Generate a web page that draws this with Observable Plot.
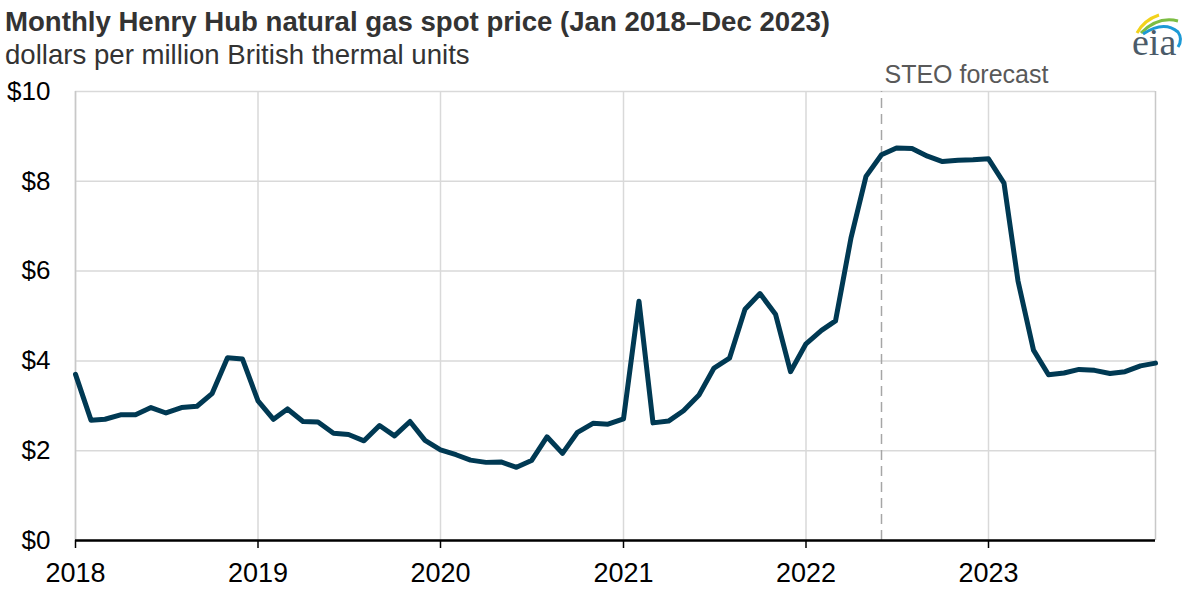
<!DOCTYPE html>
<html><head><meta charset="utf-8">
<script src="https://cdn.jsdelivr.net/npm/d3@7"></script>
<script src="https://cdn.jsdelivr.net/npm/@observablehq/plot@0.6"></script>
<style>
body{margin:0;background:#fff;font-family:"Liberation Sans",Arial,sans-serif;}
#wrap{position:relative;width:1200px;height:591px;overflow:hidden}
#header{position:relative;height:60px;z-index:2}
.title{position:absolute;left:5px;top:7.6px;font-size:27.6px;line-height:27.6px;font-weight:bold;color:#333;white-space:nowrap}
.subtitle{position:absolute;left:5px;top:40.6px;font-size:27.6px;line-height:27.6px;color:#333;white-space:nowrap}
#logo{position:absolute;left:1128px;top:6px;overflow:visible}
#chart{position:relative;z-index:1}
</style></head>
<body>
<div id="wrap">
  <div id="header">
    <div class="title">Monthly Henry Hub natural gas spot price (Jan 2018–Dec 2023)</div>
    <div class="subtitle">dollars per million British thermal units</div>
    <svg id="logo" width="66" height="54" viewBox="0 0 66 54">
      <path d="M9 27 Q16 14 31 9" fill="none" stroke="#f2d21b" stroke-width="3"/>
      <path d="M13 27 Q30 10 50 15" fill="none" stroke="#7cbd42" stroke-width="3"/>
      <path d="M15 28 Q36 14 50 26 Q55 33 50 41" fill="none" stroke="#1d9ad6" stroke-width="3"/>
      <text x="4" y="49" font-family="Liberation Serif, DejaVu Serif, serif" font-size="38" fill="#4b5b69">eia</text>
    </svg>
  </div>
  <div id="chart"></div>
</div>
<script>
const months = [
  "2018-01","2018-02","2018-03","2018-04","2018-05","2018-06","2018-07","2018-08","2018-09","2018-10","2018-11","2018-12",
  "2019-01","2019-02","2019-03","2019-04","2019-05","2019-06","2019-07","2019-08","2019-09","2019-10","2019-11","2019-12",
  "2020-01","2020-02","2020-03","2020-04","2020-05","2020-06","2020-07","2020-08","2020-09","2020-10","2020-11","2020-12",
  "2021-01","2021-02","2021-03","2021-04","2021-05","2021-06","2021-07","2021-08","2021-09","2021-10","2021-11","2021-12",
  "2022-01","2022-02","2022-03","2022-04","2022-05","2022-06","2022-07","2022-08","2022-09","2022-10","2022-11","2022-12",
  "2023-01","2023-02","2023-03","2023-04","2023-05","2023-06","2023-07","2023-08","2023-09","2023-10","2023-11","2023-12"
];
const prices = [
  3.70, 2.68, 2.70, 2.80, 2.80, 2.96, 2.84, 2.96, 2.99, 3.27, 4.07, 4.04,
  3.11, 2.70, 2.93, 2.65, 2.64, 2.39, 2.36, 2.22, 2.56, 2.33, 2.65, 2.23,
  2.02, 1.91, 1.79, 1.74, 1.75, 1.63, 1.78, 2.31, 1.94, 2.41, 2.61, 2.59,
  2.71, 5.33, 2.62, 2.66, 2.89, 3.24, 3.84, 4.06, 5.15, 5.50, 5.04, 3.76,
  4.38, 4.68, 4.89, 6.74, 8.11, 8.59, 8.74, 8.73, 8.56, 8.44, 8.47, 8.48,
  8.50, 7.96, 5.78, 4.24, 3.69, 3.73, 3.81, 3.79, 3.72, 3.76, 3.89, 3.95
];
const yTicks = [0, 2, 4, 6, 8, 10];
const yearLabels = ["2018","2019","2020","2021","2022","2023"];
const forecastMonth = "2022-06";
const forecastLabel = "STEO forecast";

const parse = s => new Date(s + "-01T00:00:00Z");
const data = months.map((m, i) => ({date: parse(m), price: prices[i]}));
const yearTicks = yearLabels.map(y => parse(y + "-01"));
const xStart = parse(months[0]);
const xEnd = parse(months[months.length - 1]);
const fDate = parse(forecastMonth);

const chart = Plot.plot({
  width: 1200, height: 531,
  marginTop: 31, marginBottom: 51, marginLeft: 75, marginRight: 45,
  style: {fontFamily: "Liberation Sans, Arial, sans-serif", fontSize: "26px", background: "transparent", overflow: "visible", color: "#000"},
  x: {type: "utc", domain: [xStart, xEnd]},
  y: {domain: [0, 10]},
  marks: [
    Plot.gridY(yTicks, {stroke: "#d9d9d9", strokeOpacity: 1, strokeWidth: 1.5}),
    Plot.gridX(yearTicks, {stroke: "#d9d9d9", strokeOpacity: 1, strokeWidth: 1.5}),
    Plot.ruleX([xEnd], {stroke: "#c8c8c8", strokeWidth: 1.5}),
    Plot.ruleX([xStart], {stroke: "#c8c8c8", strokeWidth: 1.5}),
    Plot.ruleX([fDate], {y1: 0, y2: 10, stroke: "#a6a6a6", strokeDasharray: "10,6", strokeWidth: 1.5}),
    Plot.text([forecastLabel], {x: () => fDate, y: () => 10, text: d => d, dy: -17, dx: 3, textAnchor: "start", fill: "#595959", fontSize: 25}),
    Plot.line(data, {x: "date", y: "price", stroke: "#003953", strokeWidth: 5, strokeLinejoin: "round", strokeLinecap: "round"}),
    Plot.axisY(yTicks, {tickFormat: d => "$" + d, tickSize: 0, tickPadding: 25, fontSize: 26, fill: "#000", label: null}),
    Plot.axisX(yearTicks, {tickFormat: d => String(d.getUTCFullYear()), tickSize: 8, tickPadding: 14, stroke: "#000", strokeWidth: 1.5, fontSize: 27, fill: "#000", label: null}),
    Plot.ruleY([0], {stroke: "#000", strokeWidth: 2.5})
  ]
});
document.getElementById("chart").appendChild(chart);
</script>
</body></html>
